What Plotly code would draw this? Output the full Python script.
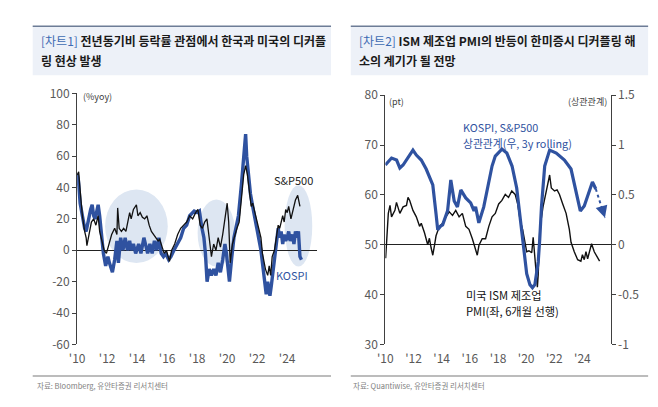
import plotly.graph_objects as go

# ---------------- data: left chart (%yoy) ----------------
kospi_x = [2010.0, 2010.08, 2010.2, 2010.33, 2010.5, 2010.6, 2010.75, 2010.9, 2011.0, 2011.1, 2011.2, 2011.4,
           2011.5, 2011.6, 2011.75, 2011.9, 2012.05, 2012.15, 2012.35, 2012.5, 2012.65, 2012.75, 2012.9,
           2013.05, 2013.2, 2013.35, 2013.5, 2013.6, 2013.75, 2013.9, 2014.1, 2014.25, 2014.45, 2014.6,
           2014.7, 2014.85, 2015.0, 2015.15, 2015.3, 2015.45, 2015.6, 2015.75, 2015.9, 2016.1, 2016.25,
           2016.45, 2016.7, 2016.9, 2017.1, 2017.3, 2017.5, 2017.8, 2018.0, 2018.15, 2018.3, 2018.45,
           2018.55, 2018.66, 2018.8, 2018.95, 2019.1, 2019.25, 2019.4, 2019.55, 2019.7, 2019.85, 2019.95,
           2020.15, 2020.3, 2020.45, 2020.6, 2020.75, 2020.95, 2021.1, 2021.23, 2021.3, 2021.4, 2021.55,
           2021.7, 2021.85, 2022.0, 2022.25, 2022.4, 2022.5, 2022.6, 2022.7, 2022.85, 2022.95, 2023.05,
           2023.2, 2023.3, 2023.4, 2023.5, 2023.6, 2023.7, 2023.8, 2023.9, 2024.0, 2024.1, 2024.2, 2024.35,
           2024.45, 2024.55, 2024.65, 2024.75, 2024.85, 2024.95]
kospi_y = [49, 45, 30, 22, 14, 12, 20, 26, 29, 22, 20, 29,
           22, 10, -2, -10, -4, -8, -14, -6, 6, -8, 8,
           0, 8, 0, 6, 0, 4, -2, 4, -2, 8, 2,
           -2, 4, -2, 6, 0, 8, -2, -4, -2, -6, -4,
           0, 4, 8, 14, 16, 22, 25, 24, 25, 15, 8,
           -2, -20, -12, -16, -12, -16, -8, -14, -6, 4, -2,
           -20, -5, 8, 15, 22, 42, 62, 74, 60, 48, 36,
           28, 20, 14, 0, -12, -22, -28, -20, -29, -22, -14,
           -3, 4, 14, 8, 12, 4, 10, 6, 8, 12, 6, 10,
           4, 12, 8, 12, -4, -6]

sp_x = [2010.0, 2010.1, 2010.2, 2010.35, 2010.5, 2010.6, 2010.65, 2010.8, 2010.95, 2011.1, 2011.25, 2011.4,
        2011.5, 2011.65, 2011.8, 2011.95, 2012.1, 2012.3, 2012.5, 2012.65, 2012.7, 2012.8, 2012.95,
        2013.1, 2013.25, 2013.4, 2013.5, 2013.6, 2013.75, 2013.95, 2014.05, 2014.2, 2014.35, 2014.5,
        2014.65, 2014.8, 2014.95, 2015.1, 2015.25, 2015.4, 2015.5, 2015.65, 2015.8, 2015.95, 2016.15,
        2016.3, 2016.5, 2016.7, 2016.9, 2017.1, 2017.3, 2017.5, 2017.7, 2017.9, 2018.05, 2018.2,
        2018.35, 2018.5, 2018.65, 2018.8, 2018.95, 2019.1, 2019.25, 2019.4, 2019.55, 2019.7, 2019.85,
        2020.0, 2020.1, 2020.2, 2020.35, 2020.5, 2020.65, 2020.8, 2020.95, 2021.1, 2021.23, 2021.35,
        2021.5, 2021.6, 2021.7, 2021.85, 2022.0, 2022.25, 2022.35, 2022.45, 2022.55, 2022.7, 2022.8,
        2022.9, 2023.0, 2023.15, 2023.3, 2023.4, 2023.5, 2023.6, 2023.7, 2023.8, 2023.9, 2024.0,
        2024.1, 2024.25, 2024.4, 2024.55, 2024.7, 2024.85]
sp_y = [48, 50, 38, 22, 12, 8, 3, 12, 18, 20, 16, 22,
        12, 6, 0, -2, 4, 10, 14, 10, 27, 14, 12,
        14, 12, 20, 24, 20, 26, 29, 22, 24, 21, 20,
        22, 16, 12, 10, 8, 6, 7, 2, -2, 0, -7,
        0, 4, 10, 14, 16, 18, 22, 20, 24, 26, 16,
        14, 18, 20, 8, -4, 4, 0, 8, 2, 10, 20,
        30, 18, -8, 4, 10, 14, 18, 36, 48, 54, 48,
        36, 28, 30, 24, 18, 8, -2, -8, -12, -16, -10,
        -16, -4, 0, 8, 16, 14, 18, 22, 18, 26, 24,
        28, 20, 26, 32, 35, 28]

left_yticks = [100, 80, 60, 40, 20, 0, -20, -40, -60]
left_yticktext = ["100", "80", "60", "40", "20", "0", "-20", "-40", "-60"]
x_tickvals = [2010, 2012, 2014, 2016, 2018, 2020, 2022, 2024]
x_ticktext = ["'10", "'12", "'14", "'16", "'18", "'20", "'22", "'24"]

# highlight ellipses (x0, x1, y0, y1) in data units
ellipses = [(2011.86, 2016.04, -8.1, 38.7), (2018.03, 2020.53, -10.4, 32.4), (2023.83, 2025.67, -10.4, 41.5)]

# ---------------- data: right chart ----------------
pmi_x = [2010.02, 2010.21, 2010.33, 2010.44, 2010.68, 2010.79, 2011.03, 2011.26, 2011.5, 2011.61, 2011.73,
         2011.96, 2012.2, 2012.43, 2012.55, 2012.78, 2013.01, 2013.13, 2013.25, 2013.37, 2013.49, 2013.6,
         2013.84, 2014.07, 2014.3, 2014.54, 2014.77, 2015.0, 2015.24, 2015.47, 2015.71, 2015.94, 2016.18,
         2016.41, 2016.53, 2016.65, 2016.88, 2017.12, 2017.35, 2017.58, 2017.81, 2018.05, 2018.28, 2018.52,
         2018.75, 2018.98, 2019.22, 2019.4, 2019.57, 2019.75, 2020.04, 2020.2, 2020.4, 2020.5, 2020.6,
         2020.74, 2020.8, 2020.86, 2020.97, 2021.2, 2021.44, 2021.67, 2021.79, 2022.02, 2022.2, 2022.37,
         2022.6, 2022.84, 2023.07, 2023.19, 2023.42, 2023.66, 2023.89, 2024.0, 2024.13, 2024.25, 2024.37,
         2024.5, 2024.65, 2024.84, 2025.08, 2025.22]
pmi_y = [47.3, 56.3, 57.9, 55.6, 56.9, 58.5, 56.3, 57.6, 57.9, 59.5, 58.9,
         56.9, 55.6, 53.7, 54.3, 52.4, 50.0, 51.3, 49.4, 47.9, 49.9, 51.8,
         53.7, 54.3, 55.6, 56.6, 55.9, 56.9, 55.6, 56.3, 53.7, 53.1, 51.2,
         49.2, 47.9, 49.9, 51.2, 51.2, 53.7, 55.6, 56.3, 58.2, 58.9, 60.1,
         59.5, 60.8, 60.1, 58.2, 55.0, 53.1, 48.6, 48.8, 48.4, 51.5, 48.5,
         42.9, 41.5, 44.0, 53.1, 57.6, 60.8, 64.0, 61.4, 60.8, 61.0, 60.1,
         58.2, 56.3, 53.1, 50.5, 48.6, 47.0, 46.7, 48.0, 47.0, 48.6, 47.2,
         48.8, 50.2, 48.6, 47.4, 46.7]

corr_x = [2010.0, 2010.44, 2010.8, 2011.03, 2011.26, 2011.61, 2011.96, 2012.2, 2012.55, 2012.9, 2013.13,
          2013.37, 2013.6, 2013.72, 2013.95, 2014.07, 2014.42, 2014.65, 2014.89, 2015.12, 2015.36, 2015.71,
          2016.06, 2016.3, 2016.41, 2016.64, 2016.99, 2017.35, 2017.58, 2017.81, 2018.28, 2018.63, 2019.0,
          2019.33, 2019.68, 2019.8, 2020.04, 2020.27, 2020.45, 2020.62, 2020.86, 2020.97, 2021.09, 2021.32,
          2021.67, 2022.14, 2022.72, 2023.19, 2023.54, 2023.85, 2024.13, 2024.48, 2024.71, 2024.95]
corr_y = [0.80, 0.87, 0.85, 0.77, 0.80, 0.87, 0.95, 0.90, 0.85, 0.76, 0.68,
          0.60, 0.31, 0.15, 0.19, 0.2, 0.34, 0.65, 0.44, 0.38, 0.55, 0.47,
          0.42, 0.34, 0.38, 0.22, 0.38, 0.64, 0.79, 0.89, 0.96, 0.92, 0.79,
          0.57, 0.15, 0.0, -0.29, -0.40, -0.43, -0.40, -0.17, 0.06, 0.38, 0.79,
          0.95, 0.92, 0.85, 0.76, 0.55, 0.34, 0.39, 0.54, 0.63, 0.56]

arrow_x = [2024.95, 2025.6]
arrow_y = [0.56, 0.27]

right_l_ticks = [80, 70, 60, 50, 40, 30]
right_l_text = ["80", "70", "60", "50", "40", "30"]
right_r_ticks = [1.5, 1.0, 0.5, 0.0, -0.5, -1.0]
right_r_text = ["1.5", "1", "0.5", "0", "-0.5", "-1"]

# ---------------- figure ----------------
W, H = 658, 407
FONT = "Noto Sans CJK KR"
BLUE = "#2F52A0"
TICKC = "#595959"


def px(x):
    return x / W


def py(y):
    return (H - y) / H


fig = go.Figure()

fig.add_trace(go.Scatter(x=kospi_x, y=kospi_y, mode="lines", line=dict(color=BLUE, width=3.4),
                         xaxis="x", yaxis="y", showlegend=False))
fig.add_trace(go.Scatter(x=sp_x, y=sp_y, mode="lines", line=dict(color="#111111", width=1.3),
                         xaxis="x", yaxis="y", showlegend=False))
fig.add_trace(go.Scatter(x=pmi_x, y=pmi_y, mode="lines", line=dict(color="#111111", width=1.4),
                         xaxis="x2", yaxis="y2", showlegend=False))
fig.add_trace(go.Scatter(x=corr_x, y=corr_y, mode="lines", line=dict(color=BLUE, width=3.2),
                         xaxis="x2", yaxis="y3", showlegend=False))
fig.add_trace(go.Scatter(x=arrow_x, y=arrow_y, mode="lines", line=dict(color=BLUE, width=2, dash="dot"),
                         xaxis="x2", yaxis="y3", showlegend=False))

tickfont = dict(family=FONT, size=12, color=TICKC)

fig.update_layout(
    width=W, height=H, margin=dict(l=0, r=0, t=0, b=0),
    paper_bgcolor="white", plot_bgcolor="rgba(0,0,0,0)",
    font=dict(family=FONT),
    xaxis=dict(domain=[px(70), px(313)], range=[2010, 2026], tickvals=x_tickvals, ticktext=x_ticktext,
               showgrid=False, zeroline=False, showline=False, ticks="outside", ticklen=3,
               tickcolor="rgba(0,0,0,0)", tickfont=tickfont, anchor="y"),
    yaxis=dict(domain=[py(349), py(87)], range=[-60, 100], tickvals=left_yticks, ticktext=left_yticktext,
               showgrid=False, zeroline=True, zerolinecolor="#222222", zerolinewidth=1,
               showline=True, linecolor="#404040", linewidth=1.2, ticks="outside", ticklen=4,
               tickcolor="#404040", tickfont=tickfont, anchor="x"),
    xaxis2=dict(domain=[px(382), px(610)], range=[2010, 2026], tickvals=x_tickvals, ticktext=x_ticktext,
                showgrid=False, zeroline=False, showline=False, ticks="outside", ticklen=3,
                tickcolor="rgba(0,0,0,0)", tickfont=tickfont, anchor="y2"),
    yaxis2=dict(domain=[py(349), py(89)], range=[30, 80], tickvals=right_l_ticks, ticktext=right_l_text,
                showgrid=False, zeroline=False, showline=True, linecolor="#404040", linewidth=1.2,
                ticks="outside", ticklen=4, tickcolor="#404040", tickfont=tickfont, anchor="x2"),
    yaxis3=dict(range=[-1, 1.5], tickvals=right_r_ticks, ticktext=right_r_text, overlaying="y2",
                side="right", anchor="x2", showgrid=False, zeroline=True, zerolinecolor="#222222",
                zerolinewidth=1, showline=True, linecolor="#404040", linewidth=1.2, ticks="outside",
                ticklen=4, tickcolor="#404040", tickfont=tickfont),
)

shapes = []
# header boxes
for (x0, x1) in [(25, 327), (347, 648)]:
    shapes.append(dict(type="rect", xref="paper", yref="paper", x0=px(x0), x1=px(x1), y0=py(68), y1=py(17),
                       fillcolor="#edf1f8", line=dict(width=0), layer="below"))
    shapes.append(dict(type="line", xref="paper", yref="paper", x0=px(x0), x1=px(x1), y0=py(17), y1=py(17),
                       line=dict(color="#6d7c96", width=1.5)))
    shapes.append(dict(type="line", xref="paper", yref="paper", x0=px(x0), x1=px(x1), y0=py(382), y1=py(382),
                       line=dict(color="#a6a6a6", width=1.5)))
for (x0, x1, y0, y1) in ellipses:
    shapes.append(dict(type="circle", xref="x", yref="y", x0=x0, x1=x1, y0=y0, y1=y1,
                       fillcolor="#dde6f2", line=dict(width=0), layer="below"))
fig.update_layout(shapes=shapes)

ann = []


def text(x, y, s, size=11, color="#222222", xanchor="left", xref="paper", yref="paper"):
    ann.append(dict(x=x, y=y, xref=xref, yref=yref, text=s, showarrow=False, xanchor=xanchor,
                    yanchor="middle", font=dict(family=FONT, size=size, color=color), align="left"))


TB = "#3d6bb3"
text(px(31), py(32), f"<span style='color:{TB}'>[차트1]</span> <b>전년동기비 등락률 관점에서 한국과 미국의 디커플</b>",
     size=12, color="#1a1a1a")
text(px(31), py(53), "<b>링 현상 발생</b>", size=12, color="#1a1a1a")
text(px(353), py(32), f"<span style='color:{TB}'>[차트2]</span> <b>ISM 제조업 PMI의 반등이 한미증시 디커플링 해</b>",
     size=12, color="#1a1a1a")
text(px(353), py(53), "<b>소의 계기가 될 전망</b>", size=12, color="#1a1a1a")

text(px(74), py(90), "(%yoy)", size=9, color="#404040")
text(px(289), py(177), "S&amp;P500", size=11, color="#222222", xanchor="center")
text(px(288), py(277), "KOSPI", size=11, color=BLUE, xanchor="center")

text(px(384), py(96), "(pt)", size=9, color="#404040")
text(px(608), py(96), "(상관관계)", size=9, color="#404040", xanchor="right")
text(px(459), py(122), "KOSPI, S&amp;P500", size=10.8, color=BLUE)
text(px(459), py(139), "상관관계(우, 3y rolling)", size=10.8, color=BLUE)
text(px(462), py(297), "미국 ISM 제조업", size=11.2, color="#111111")
text(px(462), py(314), "PMI(좌, 6개월 선행)", size=11.2, color="#111111")

text(px(27), py(392), "자료: Bloomberg, 유안타증권 리서치센터", size=7.5, color="#808080")
text(px(347), py(392), "자료: Quantiwise, 유안타증권 리서치센터", size=7.5, color="#808080")

# arrowhead at the end of the dashed projection
ann.append(dict(x=arrow_x[1], y=arrow_y[1], xref="x2", yref="y3", ax=arrow_x[1] - 0.15,
                ay=arrow_y[1] + 0.07, axref="x2", ayref="y3", showarrow=True, arrowhead=2,
                arrowsize=1.2, arrowwidth=2, arrowcolor=BLUE, text=""))

fig.update_layout(annotations=ann)
fig.write_html("out.html", config={"displayModeBar": False},
               post_script="document.body.style.margin='0';")
